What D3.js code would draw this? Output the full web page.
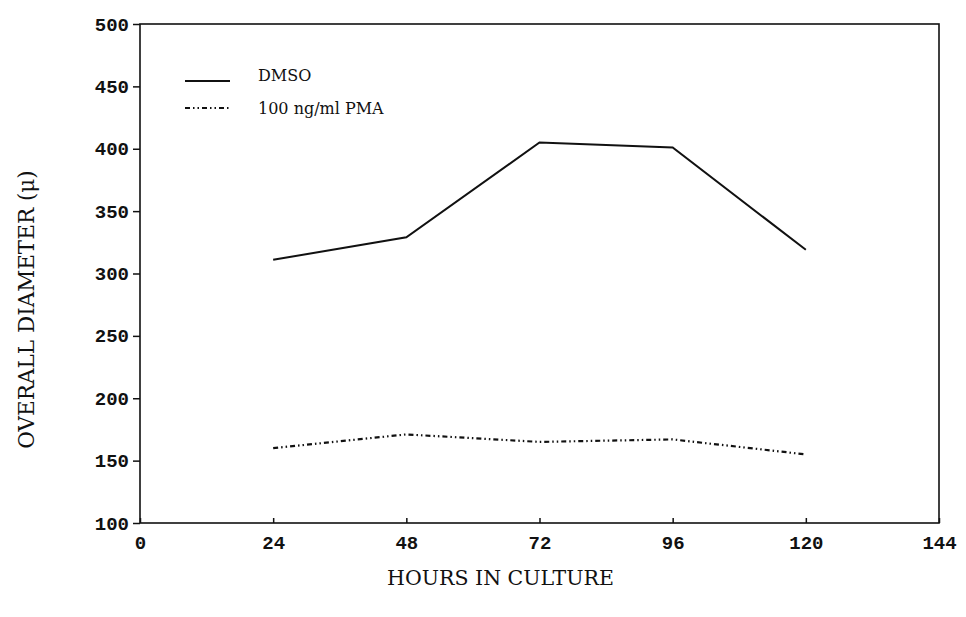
<!DOCTYPE html>
<html>
<head>
<meta charset="utf-8">
<script src="https://cdn.jsdelivr.net/npm/d3@7"></script>
<style>
  body { margin: 0; background: #fff; }
  svg { display: block; }
  .tick text { font-family: "Liberation Mono", monospace; font-size: 19px; font-weight: bold; fill: #111; }
</style>
</head>
<body>
<div id="chart"></div>
<script>
// values
var hours = [24, 48, 72, 96, 120];
var dmso = [311, 329, 405, 401, 319];
var pma = [160, 171, 165, 167, 155];
var xTicks = [0, 24, 48, 72, 96, 120, 144];
var yTicks = [100, 150, 200, 250, 300, 350, 400, 450, 500];
var seriesNames = ["DMSO", "100 ng/ml PMA"];

var W = 966, H = 617;
var margin = { top: 24, right: 27, bottom: 94, left: 140 },
    width = W - margin.left - margin.right,
    height = H - margin.top - margin.bottom;

var x = d3.scaleLinear().domain([0, 144]).range([0, width]);
var y = d3.scaleLinear().domain([100, 500]).range([height, 0]);

var svg = d3.select("#chart").append("svg")
    .attr("width", W)
    .attr("height", H)
  .append("g")
    .attr("transform", "translate(" + margin.left + "," + margin.top + ")");

// frame
svg.append("rect")
    .attr("x", 0).attr("y", 0)
    .attr("width", width).attr("height", height)
    .attr("fill", "none")
    .attr("stroke", "#111")
    .attr("stroke-width", 1.6);

// x axis, ticks pointing into the plot
var xAxis = svg.append("g")
    .attr("transform", "translate(0," + height + ")")
    .call(d3.axisBottom(x).tickValues(xTicks).tickSize(-5).tickPadding(13).tickFormat(d3.format("d")));
xAxis.select(".domain").remove();
xAxis.selectAll("line").attr("stroke", "#111").attr("stroke-width", 1.5);

// y axis, ticks pointing out
var yAxis = svg.append("g")
    .call(d3.axisLeft(y).tickValues(yTicks).tickSize(7).tickPadding(4));
yAxis.select(".domain").remove();
yAxis.selectAll("line").attr("stroke", "#111").attr("stroke-width", 1.5);

var line = d3.line()
    .x(function (d, i) { return x(hours[i]); })
    .y(function (d) { return y(d); });

svg.append("path")
    .datum(dmso)
    .attr("d", line)
    .attr("fill", "none")
    .attr("stroke", "#111")
    .attr("stroke-width", 2);

svg.append("path")
    .datum(pma)
    .attr("d", line)
    .attr("fill", "none")
    .attr("stroke", "#111")
    .attr("stroke-width", 2.2)
    .attr("stroke-dasharray", "5,3,1.5,3,1.5,3");

// legend
var legend = svg.append("g").attr("transform", "translate(45,57)");
seriesNames.forEach(function (name, i) {
    var g = legend.append("g").attr("transform", "translate(0," + (i * 27) + ")");
    g.append("line")
        .attr("x1", 0).attr("x2", 45)
        .attr("y1", 0).attr("y2", 0)
        .attr("stroke", "#111")
        .attr("stroke-width", i == 0 ? 2 : 1.8)
        .attr("stroke-dasharray", i == 0 ? null : "5,3,1.5,3,1.5,3");
    g.append("text")
        .attr("x", 73).attr("y", i == 0 ? 0 : 6)
        .attr("font-family", "DejaVu Serif, serif")
        .attr("font-size", 16)
        .attr("fill", "#111")
        .text(name);
});

// axis titles
svg.append("text")
    .attr("x", width / 2 - 39)
    .attr("y", height + 62)
    .attr("text-anchor", "middle")
    .attr("font-family", "DejaVu Serif, serif")
    .attr("font-size", 20.5)
    .attr("fill", "#111")
    .text("HOURS IN CULTURE");

svg.append("text")
    .attr("transform", "translate(-106," + (height / 2 + 36) + ") rotate(-90)")
    .attr("text-anchor", "middle")
    .attr("font-family", "DejaVu Serif, serif")
    .attr("font-size", 21.5)
    .attr("fill", "#111")
    .text("OVERALL DIAMETER (μ)");
</script>
</body>
</html>
